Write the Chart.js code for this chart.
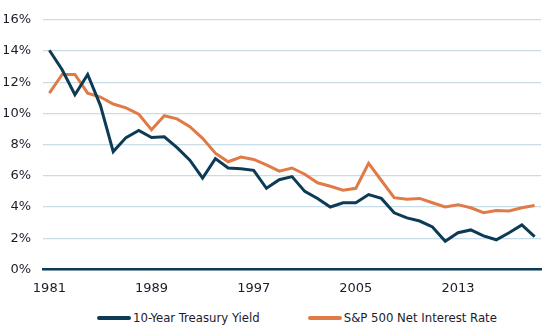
<!DOCTYPE html>
<html>
<head>
  <title>Treasury Yield vs S&amp;P 500 Net Interest Rate</title>
  <script src="https://cdn.jsdelivr.net/npm/chart.js"></script>
  <style>
    body { margin: 0; background: #fff; }
    #wrap { width: 549px; height: 335px; position: relative; }
    #chartBox { width: 549px; height: 307px; position: relative; }
    #legend {
      position: absolute; top: 310px; left: 97px;
      display: flex; align-items: center; white-space: nowrap;
      font-family: "DejaVu Sans", sans-serif; font-stretch: condensed;
      font-size: 13px; color: #1c1c2a;
    }
    .item { display: flex; align-items: center; margin-right: 48px; }
    .swatch { width: 34px; height: 4px; border-radius: 2px; margin-right: 2px; }
  </style>
</head>
<body>
  <div id="wrap">
    <div id="chartBox"><canvas id="myChart"></canvas></div>
    <div id="legend"></div>
  </div>

  <script>
    // years on the x axis
    const years = Array.from({ length: 39 }, (_, i) => String(1981 + i));

    // 10-year treasury yield (%)
    const treasuryYield = [
      14.05, 12.8, 11.2, 12.5, 10.5, 7.55, 8.45, 8.9, 8.45, 8.5,
      7.8, 7.0, 5.85, 7.1, 6.5, 6.45, 6.35, 5.2, 5.75, 5.95,
      5.0, 4.55, 4.0, 4.27, 4.27, 4.8, 4.55, 3.63, 3.3, 3.1,
      2.72, 1.8, 2.35, 2.53, 2.15, 1.9, 2.35, 2.85, 2.1
    ];

    // S&P 500 net interest rate (%)
    const spNetInterest = [
      11.3, 12.5, 12.5, 11.3, 11.05, 10.6, 10.35, 9.95, 8.95, 9.85,
      9.65, 9.15, 8.4, 7.45, 6.9, 7.2, 7.05, 6.7, 6.3, 6.5,
      6.1, 5.55, 5.33, 5.08, 5.2, 6.8, 5.7, 4.6, 4.5, 4.55,
      4.27, 4.0, 4.15, 3.95, 3.63, 3.78, 3.74, 3.95, 4.1
    ];

    const yTicks = [0, 2, 4, 6, 8, 10, 12, 14, 16];

    const navy = '#0d3b56';
    const orange = '#e07b48';
    const textColor = '#1c1c2a';
    // condensed face, passed through the style slot of the canvas font string
    const tickFont = { family: '"DejaVu Sans", sans-serif', style: 'condensed', size: 13 };

    const ctx = document.getElementById('myChart').getContext('2d');
    const myChart = new Chart(ctx, {
      type: 'line',
      data: {
        labels: years,
        datasets: [{
          label: '10-Year Treasury Yield',
          data: treasuryYield,
          borderColor: navy,
          backgroundColor: navy,
          borderWidth: 3,
          pointRadius: 0,
          tension: 0
        }, {
          label: 'S&P 500 Net Interest Rate',
          data: spNetInterest,
          borderColor: orange,
          backgroundColor: orange,
          borderWidth: 3,
          pointRadius: 0,
          tension: 0
        }]
      },
      options: {
        responsive: true,
        maintainAspectRatio: false,
        animation: false,
        layout: { padding: { top: 4, right: 8, left: 4, bottom: 0 } },
        plugins: {
          legend: { display: false },
          tooltip: { enabled: false }
        },
        scales: {
          x: {
            offset: true,
            grid: { display: false, drawTicks: false },
            border: { color: navy, width: 2.5 },
            ticks: {
              color: textColor,
              font: tickFont,
              padding: 11,
              maxRotation: 0,
              autoSkip: false,
              callback: function(val, idx) {
                return idx % 8 === 0 ? years[idx] : '';
              }
            }
          },
          y: {
            min: 0,
            max: 16,
            afterBuildTicks: function(axis) {
              axis.ticks = yTicks.map(v => ({ value: v }));
            },
            afterFit: function(axis) {
              axis.width = 39;
            },
            grid: { color: '#c8dde8', lineWidth: 1.2, drawTicks: false },
            border: { display: false },
            ticks: {
              color: textColor,
              font: tickFont,
              padding: 12,
              callback: v => v + '%'
            }
          }
        }
      }
    });

    // html legend built from the datasets
    const legendEl = document.getElementById('legend');
    myChart.data.datasets.forEach(ds => {
      const item = document.createElement('div');
      item.className = 'item';
      const sw = document.createElement('span');
      sw.className = 'swatch';
      sw.style.background = ds.borderColor;
      const txt = document.createElement('span');
      txt.textContent = ds.label;
      item.appendChild(sw);
      item.appendChild(txt);
      legendEl.appendChild(item);
    });
  </script>
</body>
</html>
